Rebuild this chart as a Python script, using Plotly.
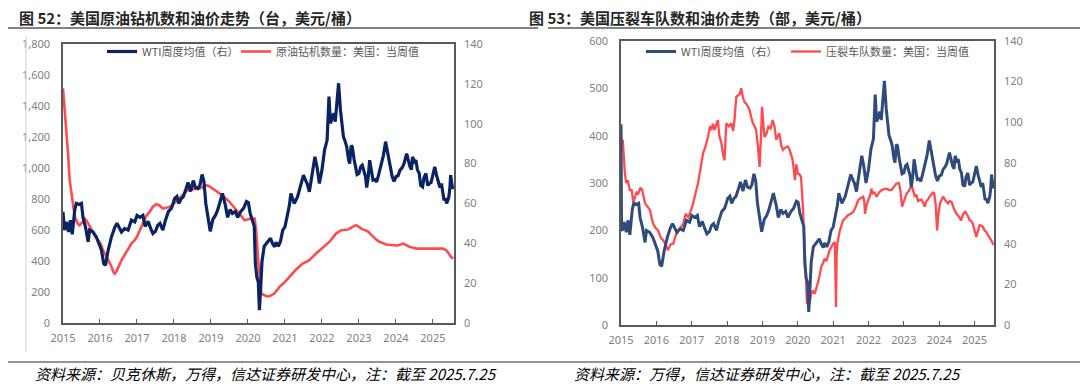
import plotly.graph_objects as go

# ---------------- data ----------------
years = [2015, 2016, 2017, 2018, 2019, 2020, 2021, 2022, 2023, 2024, 2025]

wti_t = [2015.00, 2015.04, 2015.09, 2015.15, 2015.20, 2015.25, 2015.32, 2015.36, 2015.44, 2015.50,
         2015.54, 2015.61, 2015.68, 2015.72, 2015.81, 2015.90, 2015.97, 2016.04, 2016.10, 2016.15,
         2016.22, 2016.31, 2016.40, 2016.46, 2016.58, 2016.67, 2016.76, 2016.85, 2016.94, 2017.00,
         2017.08, 2017.16, 2017.22, 2017.30, 2017.36, 2017.43, 2017.50, 2017.56, 2017.62, 2017.70,
         2017.76, 2017.85, 2017.93, 2018.02, 2018.08, 2018.13, 2018.20, 2018.25, 2018.32, 2018.38,
         2018.45, 2018.52, 2018.58, 2018.65, 2018.70, 2018.76, 2018.81, 2018.86, 2018.92, 2018.98,
         2019.05, 2019.12, 2019.18, 2019.25, 2019.31, 2019.39, 2019.45, 2019.52, 2019.58, 2019.66,
         2019.72, 2019.80, 2019.88, 2019.96, 2020.01, 2020.06, 2020.12, 2020.17, 2020.20, 2020.24,
         2020.28, 2020.31, 2020.35, 2020.38, 2020.44, 2020.50, 2020.56, 2020.61, 2020.66, 2020.72,
         2020.76, 2020.82, 2020.88, 2020.94, 2021.00, 2021.06, 2021.12, 2021.16, 2021.25, 2021.34,
         2021.43, 2021.50, 2021.56, 2021.60, 2021.66, 2021.73, 2021.81, 2021.87, 2021.93, 2022.00,
         2022.07, 2022.14, 2022.19, 2022.23, 2022.27, 2022.32, 2022.36, 2022.40, 2022.45, 2022.50,
         2022.54, 2022.58, 2022.63, 2022.67, 2022.72, 2022.75, 2022.79, 2022.82, 2022.87, 2022.91,
         2022.95, 2023.00, 2023.05, 2023.09, 2023.14, 2023.18, 2023.21, 2023.25, 2023.29, 2023.33,
         2023.38, 2023.43, 2023.48, 2023.54, 2023.60, 2023.66, 2023.72, 2023.76, 2023.81, 2023.86,
         2023.90, 2023.95, 2024.00, 2024.06, 2024.11, 2024.17, 2024.22, 2024.29, 2024.33, 2024.38,
         2024.42, 2024.45, 2024.50, 2024.54, 2024.58, 2024.63, 2024.67, 2024.72, 2024.76, 2024.81,
         2024.86, 2024.90, 2024.95, 2024.99, 2025.05, 2025.10, 2025.14, 2025.19, 2025.23, 2025.27,
         2025.30, 2025.34, 2025.37, 2025.40, 2025.43, 2025.46, 2025.48, 2025.51, 2025.53, 2025.56]
wti = [55.8, 46.6, 50.7, 45.7, 51.6, 44.5, 57.0, 60.0, 59.5, 60.0,
       53.0, 48.0, 40.7, 46.6, 45.7, 43.2, 39.9, 36.5, 29.8, 29.0,
       36.5, 43.2, 48.0, 50.0, 45.7, 47.4, 46.6, 51.6, 50.7, 54.0,
       53.0, 54.0, 48.5, 51.0, 48.0, 44.9, 46.0, 49.0, 50.0, 46.6,
       51.0, 56.0, 57.5, 62.5, 63.5, 60.0, 62.5, 63.3, 67.0, 70.5,
       66.0, 71.5, 68.0, 67.5, 69.0, 74.5, 71.0, 60.0, 53.0, 46.0,
       52.0, 54.0, 56.6, 61.0, 65.0, 59.0, 53.0, 57.0, 55.0, 56.0,
       53.0, 55.8, 57.5, 61.0, 60.5, 55.0, 51.0, 48.5, 30.0, 23.0,
       20.5, 6.4, 20.0, 31.0, 38.5, 40.0, 41.5, 42.5, 40.0, 38.2,
       40.5, 38.5, 41.0, 46.6, 48.2, 53.3, 59.0, 65.0, 60.0, 63.3,
       70.0, 74.2, 71.5, 70.0, 65.8, 73.4, 83.4, 78.0, 70.0, 76.7,
       86.8, 91.8, 113.6, 100.2, 103.0, 105.2, 101.0, 110.2, 120.3, 106.9,
       100.0, 93.5, 91.0, 88.4, 82.0, 80.0, 89.0, 88.4, 82.0, 78.4,
       74.5, 75.0, 78.5, 79.2, 76.0, 73.4, 68.0, 73.0, 81.7, 77.0,
       71.7, 72.0, 70.8, 75.0, 80.0, 84.0, 91.0, 87.0, 83.4, 77.0,
       73.4, 71.0, 73.4, 74.0, 76.7, 78.0, 80.0, 85.0, 82.0, 78.4,
       77.0, 83.4, 81.0, 81.7, 77.0, 75.0, 69.0, 68.3, 73.0, 75.0,
       69.0, 70.0, 70.5, 73.4, 78.4, 74.0, 71.7, 68.0, 70.0, 66.0,
       61.6, 62.5, 60.0, 61.5, 63.3, 68.0, 74.2, 70.0, 67.5, 68.3]

# the second chart's WTI series opens with one earlier, higher reading
wti_fleet_open_t = [2015.00, 2015.015]
wti_fleet_open = [99.0, 47.0]

rig_t = [2015.00, 2015.04, 2015.09, 2015.14, 2015.18, 2015.25, 2015.32, 2015.40, 2015.45, 2015.52,
         2015.59, 2015.64, 2015.68, 2015.75, 2015.81, 2015.88, 2015.95, 2016.02, 2016.08, 2016.15,
         2016.22, 2016.30, 2016.36, 2016.40, 2016.45, 2016.50, 2016.58, 2016.67, 2016.76, 2016.85,
         2016.92, 2017.00, 2017.08, 2017.16, 2017.25, 2017.34, 2017.43, 2017.52, 2017.60, 2017.70,
         2017.80, 2017.88, 2018.00, 2018.10, 2018.19, 2018.28, 2018.37, 2018.48, 2018.60, 2018.72,
         2018.80, 2018.87, 2018.95, 2019.05, 2019.15, 2019.23, 2019.35, 2019.50, 2019.62, 2019.73,
         2019.82, 2019.91, 2020.00, 2020.09, 2020.18, 2020.22, 2020.27, 2020.31, 2020.36, 2020.45,
         2020.52, 2020.59, 2020.65, 2020.71, 2020.78, 2020.85, 2021.00, 2021.16, 2021.30, 2021.48,
         2021.66, 2021.84, 2022.00, 2022.20, 2022.38, 2022.52, 2022.60, 2022.70, 2022.83, 2022.92,
         2023.00, 2023.06, 2023.24, 2023.38, 2023.48, 2023.56, 2023.74, 2023.93, 2024.05, 2024.20,
         2024.37, 2024.55, 2024.73, 2024.91, 2025.09, 2025.27, 2025.35, 2025.40, 2025.49, 2025.55]
rigs = [1514, 1400, 1245, 1080, 922, 792, 685, 640, 631, 650,
        674, 660, 642, 610, 577, 555, 534, 510, 470, 440,
        405, 370, 330, 319, 335, 362, 405, 440, 480, 512,
        530, 556, 600, 642, 690, 717, 750, 767, 760, 739,
        745, 749, 771, 795, 814, 835, 857, 862, 868, 870,
        880, 889, 883, 868, 850, 835, 815, 782, 750, 717,
        690, 663, 670, 674, 674, 600, 426, 300, 190, 179,
        172, 174, 180, 190, 210, 233, 265, 308, 345, 383,
        405, 448, 480, 523, 577, 599, 600, 603, 620, 631,
        620, 609, 592, 556, 535, 523, 506, 502, 500, 512,
        491, 480, 480, 476, 480, 480, 470, 459, 426, 416]

fleet_t = [2015.00, 2015.02, 2015.05, 2015.08, 2015.11, 2015.15, 2015.19, 2015.25, 2015.30, 2015.35,
           2015.39, 2015.44, 2015.49, 2015.55, 2015.60, 2015.64, 2015.68, 2015.75, 2015.82, 2015.87,
           2015.91, 2015.98, 2016.05, 2016.12, 2016.19, 2016.26, 2016.33, 2016.40, 2016.48, 2016.55,
           2016.62, 2016.70, 2016.76, 2016.83, 2016.90, 2016.97, 2017.04, 2017.09, 2017.13, 2017.18,
           2017.23, 2017.28, 2017.32, 2017.38, 2017.46, 2017.52, 2017.56, 2017.60, 2017.65, 2017.70,
           2017.74, 2017.78, 2017.84, 2017.90, 2017.93, 2017.96, 2017.98, 2018.05, 2018.12, 2018.17,
           2018.21, 2018.26, 2018.32, 2018.36, 2018.40, 2018.45, 2018.50, 2018.54, 2018.60, 2018.64,
           2018.68, 2018.73, 2018.78, 2018.82, 2018.87, 2018.92, 2018.96, 2018.99, 2019.03, 2019.06,
           2019.12, 2019.17, 2019.23, 2019.29, 2019.34, 2019.39, 2019.44, 2019.48, 2019.53, 2019.58,
           2019.65, 2019.72, 2019.77, 2019.81, 2019.85, 2019.89, 2019.92, 2019.96, 2020.00, 2020.05,
           2020.09, 2020.14, 2020.18, 2020.21, 2020.24, 2020.26, 2020.30, 2020.33, 2020.38, 2020.42,
           2020.48, 2020.52, 2020.57, 2020.61, 2020.67, 2020.71, 2020.76, 2020.81, 2020.86, 2020.90,
           2020.95, 2021.00, 2021.05, 2021.07, 2021.08, 2021.10, 2021.12, 2021.19, 2021.24, 2021.28,
           2021.35, 2021.42, 2021.50, 2021.57, 2021.64, 2021.71, 2021.78, 2021.85, 2021.88, 2021.90,
           2021.95, 2022.00, 2022.05, 2022.08, 2022.12, 2022.17, 2022.23, 2022.30, 2022.37, 2022.44,
           2022.51, 2022.58, 2022.65, 2022.72, 2022.79, 2022.86, 2022.90, 2022.95, 2023.00, 2023.04,
           2023.08, 2023.14, 2023.18, 2023.22, 2023.26, 2023.31, 2023.36, 2023.40, 2023.45, 2023.50,
           2023.55, 2023.59, 2023.64, 2023.68, 2023.73, 2023.78, 2023.82, 2023.86, 2023.90, 2023.94,
           2023.97, 2024.02, 2024.06, 2024.11, 2024.18, 2024.25, 2024.30, 2024.35, 2024.42, 2024.49,
           2024.55, 2024.62, 2024.68, 2024.74, 2024.80, 2024.86, 2024.90, 2024.95, 2025.00, 2025.05,
           2025.10, 2025.14, 2025.19, 2025.24, 2025.28, 2025.33, 2025.38, 2025.42, 2025.48, 2025.54]
fleets = [405, 380, 391, 340, 320, 300, 306, 285, 285, 260,
          271, 280, 278, 290, 285, 270, 257, 250, 243, 225,
          214, 205, 200, 185, 179, 170, 158, 170, 172, 190,
          200, 208, 214, 235, 228, 240, 257, 270, 285, 300,
          320, 340, 362, 375, 397, 420, 412, 425, 412, 425,
          433, 400, 384, 355, 348, 400, 426, 420, 426, 410,
          433, 482, 485, 488, 500, 480, 470, 468, 460, 454,
          440, 426, 420, 412, 380, 334, 400, 461, 420, 397,
          405, 419, 415, 433, 420, 391, 400, 405, 380, 370,
          375, 377, 370, 362, 350, 327, 306, 340, 320, 318,
          313, 257, 190, 130, 80, 45, 48, 45, 65, 73,
          66, 80, 90, 102, 125, 130, 140, 135, 150, 158,
          165, 172, 175, 100, 38, 150, 172, 200, 212, 221,
          226, 232, 235, 239, 250, 264, 268, 271, 262, 235,
          255, 264, 275, 288, 278, 280, 271, 280, 285, 287,
          288, 285, 285, 292, 299, 300, 285, 250, 262, 270,
          278, 283, 290, 295, 285, 271, 275, 262, 264, 265,
          258, 250, 262, 265, 271, 275, 280, 278, 255, 200,
          230, 257, 265, 271, 263, 257, 262, 260, 245, 235,
          230, 221, 235, 239, 232, 221, 220, 214, 200, 186,
          200, 211, 210, 207, 200, 197, 190, 186, 178, 169]

title_left = "图 52：美国原油钻机数和油价走势（台，美元/桶）"
title_right = "图 53：美国压裂车队数和油价走势（部，美元/桶）"
source_left = "资料来源：贝克休斯，万得，信达证券研发中心，注：截至 2025.7.25"
source_right = "资料来源：万得，信达证券研发中心，注：截至 2025.7.25"
name_wti = "WTI周度均值（右）"
name_rig = "原油钻机数量：美国：当周值"
name_fleet = "压裂车队数量：美国：当周值"

# ---------------- figure ----------------
W, H = 1088, 386
OFF = 8  # the page draws the figure 8 px in from the window corner
FONT = "Noto Sans, Noto Sans CJK SC, sans-serif"
CJK = "Noto Sans CJK SC, sans-serif"
TICK = dict(size=11, color="#7f7f7f", family=FONT)
NAVY = "#0a2463"
SLATE = "#2f4b7c"
RED = "#ff4a4f"

def px(x):
    return (x - OFF) / W

def py(y):
    return 1 - (y - OFF) / H

fig = go.Figure()

# left chart
fig.add_trace(go.Scatter(x=wti_t, y=wti, name=name_wti, mode="lines",
                         line=dict(color=NAVY, width=3.2), xaxis="x", yaxis="y2", legend="legend"))
fig.add_trace(go.Scatter(x=rig_t, y=rigs, name=name_rig, mode="lines",
                         line=dict(color=RED, width=2.6), xaxis="x", yaxis="y", legend="legend2"))

# right chart
fig.add_trace(go.Scatter(x=wti_fleet_open_t + wti_t[1:], y=wti_fleet_open + wti[1:], name=name_wti,
                         mode="lines", line=dict(color=SLATE, width=3), xaxis="x2", yaxis="y4",
                         legend="legend3"))
fig.add_trace(go.Scatter(x=fleet_t, y=fleets, name=name_fleet, mode="lines",
                         line=dict(color=RED, width=2.3), xaxis="x2", yaxis="y3", legend="legend4"))

xcommon = dict(tickmode="array", tickvals=years, ticktext=[str(v) for v in years],
               ticks="inside", ticklen=4, tickcolor="#595959", tickwidth=1,
               showline=True, linecolor="#595959", linewidth=1.5, mirror=True,
               showgrid=False, zeroline=False, tickfont=TICK, ticklabelstandoff=4,
               automargin=False)
ycommon = dict(showgrid=False, zeroline=False, ticks="", tickfont=TICK, ticklabelstandoff=9,
               automargin=False)

L_x0, L_x1, L_y0, L_y1 = 63, 454, 44, 323
R_x0, R_x1, R_y0, R_y1 = 621, 994, 41, 325


def legend_at(x_left, y_top):
    return dict(orientation="h", x=px(x_left), y=py(y_top), xanchor="left", yanchor="top",
                bgcolor="rgba(0,0,0,0)", font=dict(size=11, color="#595959", family=CJK),
                itemwidth=30)


fig.update_layout(
    width=W, height=H, margin=dict(l=0, r=0, t=0, b=0, pad=0, autoexpand=False),
    paper_bgcolor="white", plot_bgcolor="white",
    font=dict(family=FONT, color="#595959"),
    xaxis=dict(domain=[px(L_x0), px(L_x1)], range=[2015.0, 2025.57], anchor="y", **xcommon),
    yaxis=dict(domain=[py(L_y1), py(L_y0)], range=[0, 1800], dtick=200, tickformat=",",
               showline=True, linecolor="#595959", linewidth=1.5, mirror=True, anchor="x", **ycommon),
    yaxis2=dict(range=[0, 140], dtick=20, overlaying="y", side="right", anchor="x",
                showline=False, **ycommon),
    xaxis2=dict(domain=[px(R_x0), px(R_x1)], range=[2015.0, 2025.55], anchor="y3", **xcommon),
    yaxis3=dict(domain=[py(R_y1), py(R_y0)], range=[0, 600], dtick=100,
                showline=True, linecolor="#595959", linewidth=1.5, mirror=True, anchor="x2", **ycommon),
    yaxis4=dict(range=[0, 140], dtick=20, overlaying="y3", side="right", anchor="x2",
                showline=False, **ycommon),
    legend=legend_at(102, 37),
    legend2=legend_at(236, 37),
    legend3=legend_at(641, 37),
    legend4=legend_at(786, 37),
    showlegend=True,
)

# titles
for txt, x0 in ((title_left, 17), (title_right, 527)):
    fig.add_annotation(text="<b>" + txt + "</b>", x=px(x0), y=py(18), xref="paper", yref="paper",
                       xanchor="left", yanchor="middle", showarrow=False,
                       font=dict(size=15, color="#262626", family=CJK))
# sources
for txt, x0 in ((source_left, 33), (source_right, 572)):
    fig.add_annotation(text="<i>" + txt + "</i>", x=px(x0), y=py(373), xref="paper", yref="paper",
                       xanchor="left", yanchor="middle", showarrow=False,
                       font=dict(size=15, color="#000000", family=CJK))

# separators and frame line
shapes = [
    dict(type="line", xref="paper", yref="paper", x0=px(5), x1=px(538), y0=py(28), y1=py(28),
         line=dict(color="#595959", width=1.5)),
    dict(type="line", xref="paper", yref="paper", x0=px(548), x1=px(1082), y0=py(28), y1=py(28),
         line=dict(color="#595959", width=1.5)),
    dict(type="line", xref="paper", yref="paper", x0=px(5), x1=px(1082), y0=py(362), y1=py(362),
         line=dict(color="#262626", width=1)),
    dict(type="line", xref="paper", yref="paper", x0=px(26), x1=px(26), y0=py(36), y1=py(352),
         line=dict(color="#d0d0d0", width=1)),
]
fig.update_layout(shapes=shapes)

fig.write_html("out.html")
